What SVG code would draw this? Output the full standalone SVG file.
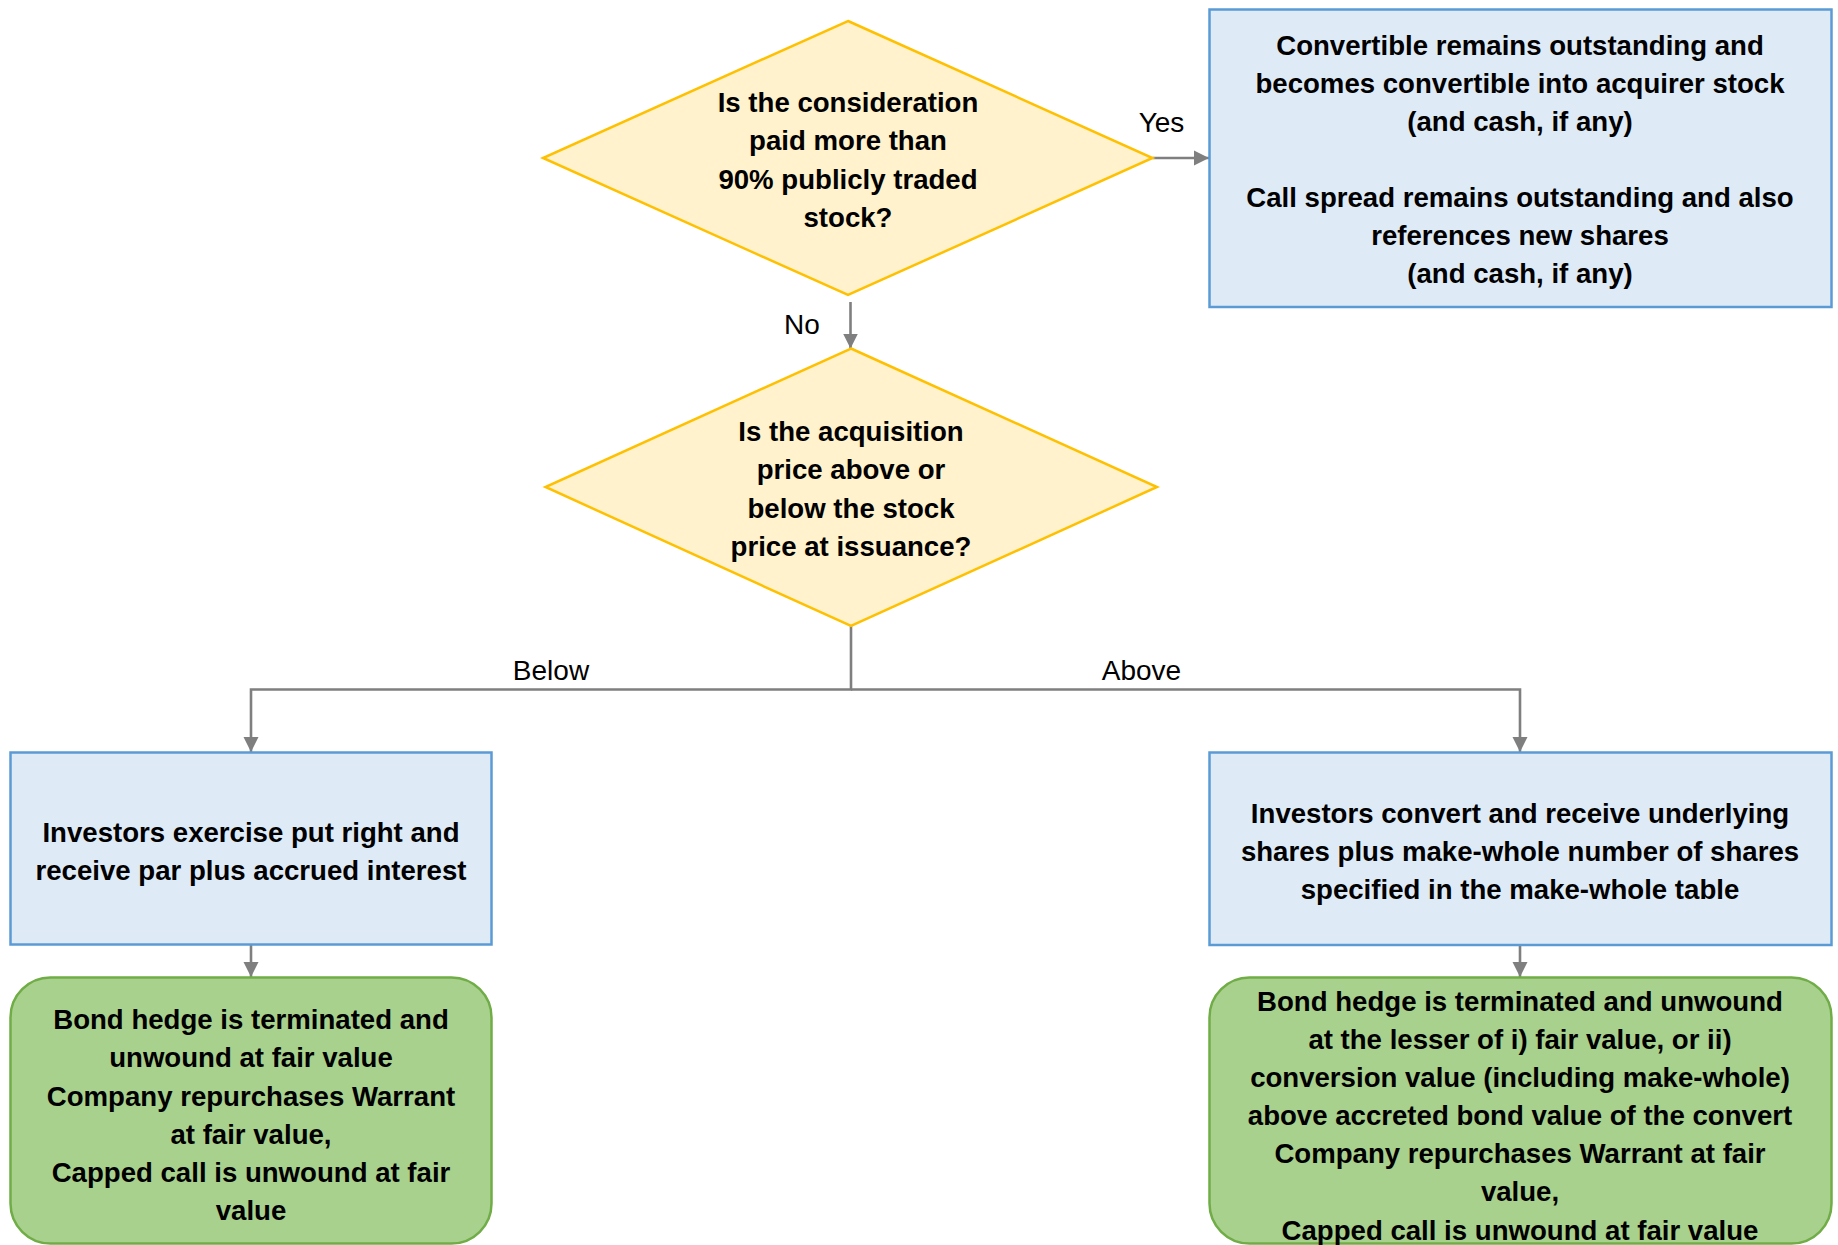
<svg xmlns="http://www.w3.org/2000/svg" width="1838" height="1245" viewBox="0 0 1838 1245">
<style>
.dec{fill:#FFF2CC;stroke:#FFC000;stroke-width:2.5}
.blue{fill:#DEEBF7;stroke:#5B9BD5;stroke-width:2.5}
.green{fill:#A9D18E;stroke:#70AD47;stroke-width:2.5}
.t{font-family:"Liberation Sans",Arial,sans-serif;font-weight:bold;font-size:27.6px;fill:#000;text-anchor:middle}
.lbl{font-family:"Liberation Sans",Arial,sans-serif;font-size:28px;fill:#000;text-anchor:middle}
.con{fill:none;stroke:#7F7F7F;stroke-width:2.6}
</style>
<defs>
<marker id="arr" markerUnits="userSpaceOnUse" markerWidth="16" markerHeight="16" refX="15" refY="8" orient="auto">
<path d="M0,0.5 L15,8 L0,15.5 z" fill="#7F7F7F"/>
</marker>
</defs>
<rect width="1838" height="1245" fill="#fff"/>
<g id="connectors">
<path class="con" d="M1152.5,158 H1209" marker-end="url(#arr)"/>
<path class="con" d="M850.5,302 V348.5" marker-end="url(#arr)"/>
<path class="con" d="M851,626 V689.5 H251 V752" marker-end="url(#arr)"/>
<path class="con" d="M851,689.5 H1520 V752" marker-end="url(#arr)"/>
<path class="con" d="M251,944.5 V977" marker-end="url(#arr)"/>
<path class="con" d="M1520,945 V977" marker-end="url(#arr)"/>
<text class="lbl" x="1161.5" y="132">Yes</text>
<text class="lbl" x="802" y="334">No</text>
<text class="lbl" x="551" y="680">Below</text>
<text class="lbl" x="1141.5" y="680">Above</text>
</g>
<g id="decision1">
<polygon class="dec" points="848,21 1152.5,158 848,295 543,158"/>
<text class="t" x="848" y="111.5">Is the consideration</text>
<text class="t" x="848" y="149.5">paid more than</text>
<text class="t" x="848" y="188.5">90% publicly traded</text>
<text class="t" x="848" y="226.5">stock?</text>
</g>
<g id="outcome-yes">
<rect class="blue" x="1209.5" y="9.5" width="622" height="297.5"/>
<text class="t" x="1520" y="54.5">Convertible remains outstanding and</text>
<text class="t" x="1520" y="92.5">becomes convertible into acquirer stock</text>
<text class="t" x="1520" y="130.5">(and cash, if any)</text>
<text class="t" x="1520" y="206.5">Call spread remains outstanding and also</text>
<text class="t" x="1520" y="244.5">references new shares</text>
<text class="t" x="1520" y="282.5">(and cash, if any)</text>
</g>
<g id="decision2">
<polygon class="dec" points="851,348.5 1157,487 851,626 545.5,487"/>
<text class="t" x="851" y="441">Is the acquisition</text>
<text class="t" x="851" y="479">price above or</text>
<text class="t" x="851" y="517.5">below the stock</text>
<text class="t" x="851" y="556">price at issuance?</text>
</g>
<g id="below-action">
<rect class="blue" x="10.5" y="752.5" width="481" height="192"/>
<text class="t" x="251" y="842">Investors exercise put right and</text>
<text class="t" x="251" y="880">receive par plus accrued interest</text>
</g>
<g id="above-action">
<rect class="blue" x="1209.5" y="752.5" width="622" height="192.5"/>
<text class="t" x="1520" y="823">Investors convert and receive underlying</text>
<text class="t" x="1520" y="861">shares plus make-whole number of shares</text>
<text class="t" x="1520" y="899">specified in the make-whole table</text>
</g>
<g id="below-result">
<rect class="green" x="10.5" y="977.5" width="481" height="266" rx="40" ry="40"/>
<text class="t" x="251" y="1028.5">Bond hedge is terminated and</text>
<text class="t" x="251" y="1067">unwound at fair value</text>
<text class="t" x="251" y="1105.5">Company repurchases Warrant</text>
<text class="t" x="251" y="1143.5">at fair value,</text>
<text class="t" x="251" y="1182">Capped call is unwound at fair</text>
<text class="t" x="251" y="1220">value</text>
</g>
<g id="above-result">
<rect class="green" x="1209.5" y="977.5" width="622" height="266" rx="40" ry="40"/>
<text class="t" x="1520" y="1010.5">Bond hedge is terminated and unwound</text>
<text class="t" x="1520" y="1048.5">at the lesser of i) fair value, or ii)</text>
<text class="t" x="1520" y="1087">conversion value (including make-whole)</text>
<text class="t" x="1520" y="1125">above accreted bond value of the convert</text>
<text class="t" x="1520" y="1163">Company repurchases Warrant at fair</text>
<text class="t" x="1520" y="1201">value,</text>
<text class="t" x="1520" y="1239.5">Capped call is unwound at fair value</text>
</g>
</svg>
